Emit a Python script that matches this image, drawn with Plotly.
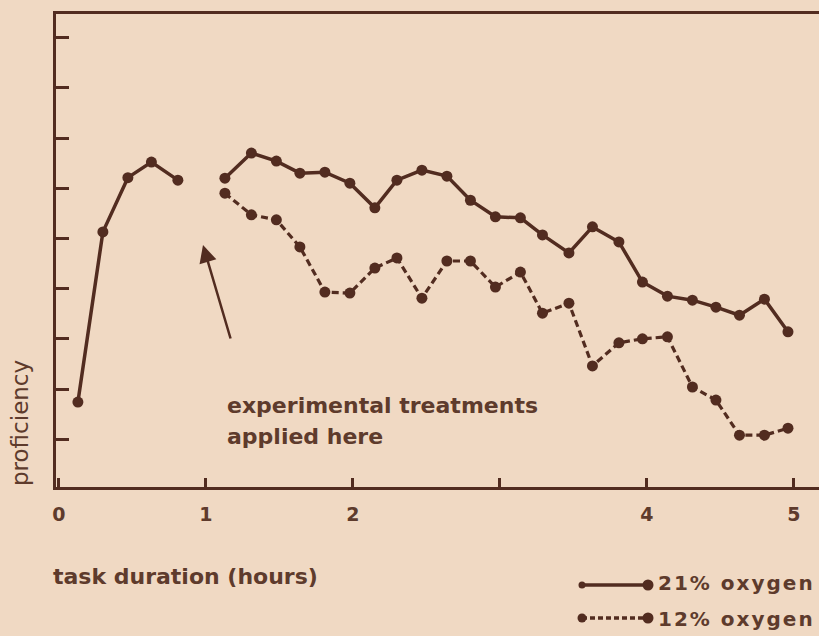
import plotly.graph_objects as go

# ---------------- data ----------------
pre_hours = [0.13, 0.30, 0.47, 0.63, 0.81]
pre_proficiency = [1.74, 5.13, 6.21, 6.52, 6.16]

post_hours = [1.13, 1.31, 1.48, 1.64, 1.81, 1.98, 2.15, 2.30, 2.47, 2.64, 2.80, 2.97,
              3.14, 3.29, 3.47, 3.63, 3.81, 3.97, 4.14, 4.31, 4.47, 4.63, 4.80, 4.96]
oxygen21 = [6.20, 6.70, 6.54, 6.30, 6.32, 6.10, 5.61, 6.16, 6.36, 6.24, 5.76, 5.43,
            5.41, 5.07, 4.71, 5.23, 4.93, 4.13, 3.85, 3.77, 3.63, 3.47, 3.79, 3.14]
oxygen12 = [5.90, 5.47, 5.37, 4.83, 3.93, 3.91, 4.41, 4.61, 3.81, 4.55, 4.55, 4.03,
            4.33, 3.51, 3.71, 2.46, 2.92, 3.00, 3.04, 2.04, 1.78, 1.08, 1.08, 1.22]

x_tickvals = [0, 1, 2, 3, 4, 5]
x_ticktext = ["0", "1", "2", "", "4", "5"]
y_tickvals = [1, 2, 3, 4, 5, 6, 7, 8, 9]

series_labels = ["21% oxygen", "12% oxygen"]
x_title = "task duration (hours)"
y_title = "proficiency"
note_lines = ["experimental treatments", "applied here"]

# ---------------- styling ----------------
BG = "#f0d9c3"
INK = "#522c20"
TXT = "#5e3b2c"
FONT = "DejaVu Sans"

W_FIG, H_FIG = 819, 636
L, T = 56, 14
PW, PH = 763, 473


def px(x):
    return (x - L) / PW


def py(y):
    return (T + PH - y) / PH


fig = go.Figure()

fig.add_trace(go.Scatter(
    x=pre_hours, y=pre_proficiency, mode="lines+markers",
    line=dict(color=INK, width=3.5), marker=dict(color=INK, size=11),
    showlegend=False, cliponaxis=False))
fig.add_trace(go.Scatter(
    x=post_hours, y=oxygen21, mode="lines+markers", name=series_labels[0],
    line=dict(color=INK, width=3.5), marker=dict(color=INK, size=11),
    showlegend=False, cliponaxis=False))
fig.add_trace(go.Scatter(
    x=post_hours, y=oxygen12, mode="lines+markers", name=series_labels[1],
    line=dict(color=INK, width=3.2, dash="7px,4px"), marker=dict(color=INK, size=11),
    showlegend=False, cliponaxis=False))

annotations = [
    dict(text=y_title, x=px(20), y=py(423), textangle=-90,
         font=dict(family=FONT, size=23, color=TXT)),
    dict(text=x_title, x=px(51), y=py(576), xanchor="left",
         font=dict(family=FONT, size=22, color=TXT, weight="bold")),
    dict(text=note_lines[0], x=px(225), y=py(405), xanchor="left",
         font=dict(family=FONT, size=22, color=TXT, weight="bold")),
    dict(text=note_lines[1], x=px(225), y=py(436), xanchor="left",
         font=dict(family=FONT, size=22, color=TXT, weight="bold")),
    dict(text='<span style="letter-spacing:2px">' + series_labels[0] + '</span>',
         x=px(656), y=py(583), xanchor="left",
         font=dict(family=FONT, size=20, color=TXT, weight="bold")),
    dict(text='<span style="letter-spacing:2px">' + series_labels[1] + '</span>',
         x=px(656), y=py(619), xanchor="left",
         font=dict(family=FONT, size=20, color=TXT, weight="bold")),
    dict(text="", x=px(203), y=py(245), ax=28, ay=95, showarrow=True,
         arrowhead=2, arrowsize=1.4, arrowwidth=2.5, arrowcolor=INK),
]
for a in annotations:
    a.setdefault("xref", "paper")
    a.setdefault("yref", "paper")
    a.setdefault("showarrow", False)
    a.setdefault("xanchor", "center")
    a.setdefault("yanchor", "middle")

shapes = []
# legend keys
for yy, dash, rl in [(585, "solid", 3.5), (618, "5px,3px", 4.5)]:
    shapes.append(dict(type="line", xref="paper", yref="paper",
                       x0=px(582), x1=px(647), y0=py(yy), y1=py(yy),
                       line=dict(color=INK, width=3.5, dash=dash)))
    for cx, r in [(582, rl), (648, 5.5)]:
        shapes.append(dict(type="circle", xref="paper", yref="paper",
                           x0=px(cx - r), x1=px(cx + r), y0=py(yy + r), y1=py(yy - r),
                           fillcolor=INK, line=dict(width=0)))

fig.update_layout(
    width=W_FIG, height=H_FIG,
    margin=dict(l=L, r=W_FIG - L - PW, t=T, b=H_FIG - T - PH),
    paper_bgcolor=BG, plot_bgcolor=BG,
    annotations=annotations, shapes=shapes,
    showlegend=False,
    xaxis=dict(range=[-0.019, 5.171], tickvals=x_tickvals, ticktext=x_ticktext,
               ticks="inside", ticklen=9, tickwidth=2.5, tickcolor=INK,
               showline=True, linewidth=3, linecolor=INK, mirror=True,
               showgrid=False, zeroline=False, ticklabelstandoff=8,
               tickfont=dict(family=FONT, size=19, color=TXT, weight="bold")),
    yaxis=dict(range=[0.048, 9.47], tickvals=y_tickvals, showticklabels=False,
               ticks="inside", ticklen=13, tickwidth=2.5, tickcolor=INK,
               showline=True, linewidth=3, linecolor=INK,
               showgrid=False, zeroline=False),
)

fig.write_html(
    "out.html",
    config={"displayModeBar": False},
    post_script="document.body.style.margin='0';document.body.style.background='" + BG + "';",
)
